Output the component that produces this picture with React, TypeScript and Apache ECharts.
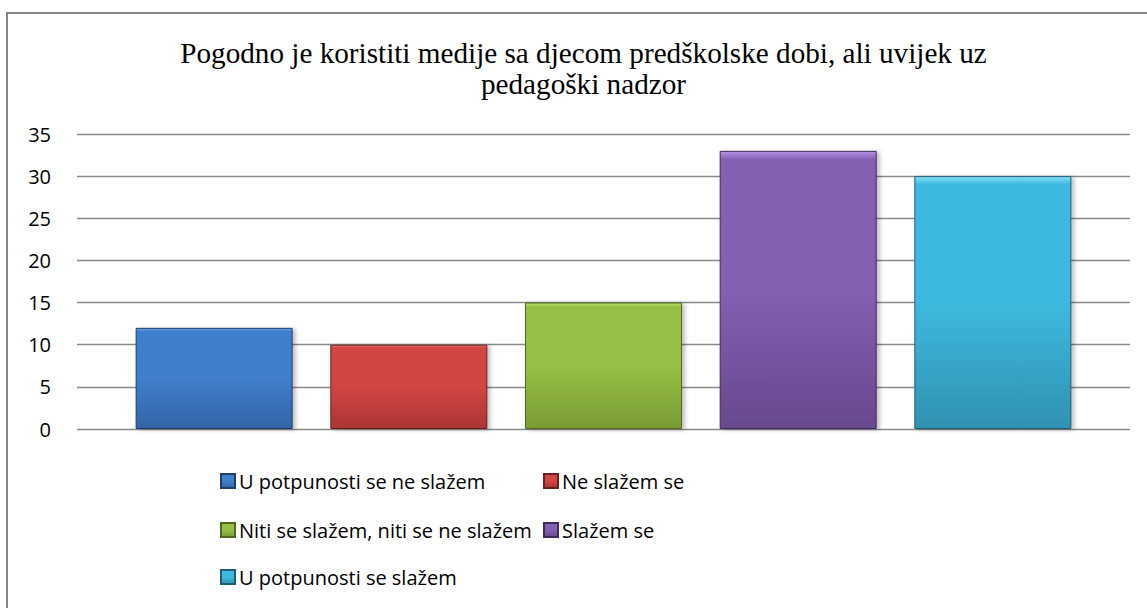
import React, { useEffect, useRef } from "react";
import * as echarts from "echarts";

const titleText = "Pogodno je koristiti medije sa djecom predškolske dobi, ali uvijek uz\npedagoški nadzor";
const seriesNames = [
  "U potpunosti se ne slažem",
  "Ne slažem se",
  "Niti se slažem, niti se ne slažem",
  "Slažem se",
  "U potpunosti se slažem",
];
const seriesValues = [12, 10, 15, 33, 30];
const yMin = 0;
const yMax = 35;
const yInterval = 5;

// [light top, body, dark bottom, border]
const palette = [
  ["#6FA8EA", "#3F7FCB", "#3564A6", "#1F3E6A"],
  ["#F27472", "#D24543", "#AA3533", "#6B1F1F"],
  ["#BDE276", "#96BF44", "#799B35", "#4F6A1F"],
  ["#B593E6", "#8260B2", "#67498D", "#3F2A5E"],
  ["#86E3FA", "#3EB9DF", "#2F92B2", "#1F5F73"],
];

const legendPos = [
  { left: 220, top: 471 },
  { left: 543, top: 471 },
  { left: 220, top: 520 },
  { left: 543, top: 520 },
  { left: 220, top: 567 },
];

const sansFont = "'Open Sans', 'Noto Sans', sans-serif";

export default function App() {
  const ref = useRef<HTMLDivElement>(null);
  useEffect(() => {
    if (!ref.current) return;
    const chart = echarts.init(ref.current, undefined, { renderer: "svg" });
    const grad = (c: string[]) =>
      new echarts.graphic.LinearGradient(0, 0, 0, 1, [
        { offset: 0, color: c[0] },
        { offset: 0.03, color: c[1] },
        { offset: 0.5, color: c[1] },
        { offset: 1, color: c[2] },
      ]);
    const option: any = {
      animation: false,
      backgroundColor: "#ffffff",
      graphic: [
        {
          type: "rect",
          shape: { x: 7, y: 13, width: 1170, height: 640 },
          style: { fill: "none", stroke: "#868686", lineWidth: 2 },
          silent: true,
        },
        {
          type: "text",
          x: 583.5,
          y: 37,
          style: {
            text: titleText,
            fontFamily: "'Liberation Serif', 'Times New Roman', serif",
            fontSize: 29.2,
            lineHeight: 31,
            fill: "#000000",
            textAlign: "center",
            textVerticalAlign: "top",
          },
        },
      ],
      legend: seriesNames.map((n, i) => ({
        data: [n],
        left: legendPos[i].left,
        top: legendPos[i].top,
        itemWidth: 14,
        itemHeight: 14,
        itemGap: 0,
        icon: "rect",
        selectedMode: false,
        textStyle: {
          fontFamily: sansFont,
          fontSize: 20,
          color: "#000000",
          padding: [0, 0, 0, -1],
        },
        padding: 0,
      })),
      grid: { left: 77, right: 17, top: 134, bottom: 179, containLabel: false },
      xAxis: {
        type: "category",
        data: [""],
        axisLine: { show: false },
        axisTick: { show: false },
        axisLabel: { show: false },
      },
      yAxis: {
        type: "value",
        min: yMin,
        max: yMax,
        interval: yInterval,
        axisLine: { show: false },
        axisTick: { show: false },
        axisLabel: {
          margin: 26,
          color: "#000000",
          fontFamily: sansFont,
          fontSize: 20,
        },
        splitLine: { lineStyle: { color: "#8A8A8A", width: 1.3 } },
      },
      series: seriesNames.map((n, i) => ({
        type: "bar",
        name: n,
        data: [seriesValues[i]],
        barWidth: 157,
        barGap: "24%",
        itemStyle: {
          color: grad(palette[i]),
          borderColor: palette[i][3],
          borderWidth: 1,
          shadowBlur: 4,
          shadowOffsetX: 3,
          shadowOffsetY: 1,
          shadowColor: "rgba(0,0,0,0.25)",
        },
      })),
    };
    chart.setOption(option);
    return () => chart.dispose();
  }, []);
  return (
    <div
      ref={ref}
      style={{ position: "absolute", left: 0, top: 0, width: 1147, height: 608 }}
    />
  );
}
